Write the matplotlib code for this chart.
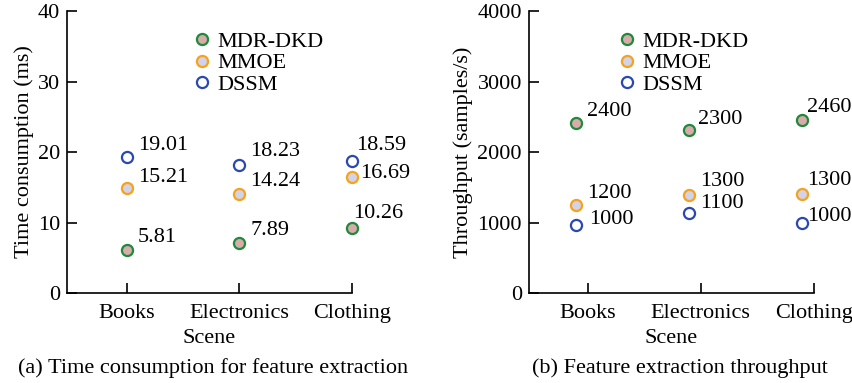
import numpy as np
import matplotlib as mpl
mpl.use('Agg')
import matplotlib.pyplot as plt

plt.rcParams['font.family'] = ['Liberation Serif', 'DejaVu Serif']
plt.rcParams['font.size'] = 16

# data
scenes = ['Books', 'Electronics', 'Clothing']
models = ['MDR-DKD', 'MMOE', 'DSSM']

# (a) time consumption, marker heights and printed labels
time_mdr = [6.1, 7.15, 9.25]
time_mmoe = [14.85, 14.05, 16.5]
time_dssm = [19.3, 18.15, 18.75]
time_lab_mdr = ['5.81', '7.89', '10.26']
time_lab_mmoe = ['15.21', '14.24', '16.69']
time_lab_dssm = ['19.01', '18.23', '18.59']

# (b) throughput
thr_mdr = [2415, 2310, 2455]
thr_mmoe = [1250, 1390, 1400]
thr_dssm = [965, 1130, 990]
thr_lab_mdr = ['2400', '2300', '2460']
thr_lab_mmoe = ['1200', '1300', '1300']
thr_lab_dssm = ['1000', '1100', '1000']

# styles
faces = ['#d9abab', '#d2d2e8', '#ffffff']
edges = ['#1e8a3c', '#f5a21c', '#2a48b0']

# label offsets (points) per model per scene
off_a = [[(8, 9), (8, 9), (1, 10)],
         [(8, 8), (8, 9), (6, 2)],
         [(8, 8), (8, 10), (3, 11)]]
off_b = [[(8, 8), (6, 8), (3, 9)],
         [(8, 8), (8, 10), (3, 10)],
         [(9, 4), (8, 7), (3, 5)]]

fig = plt.figure(figsize=(8.53, 3.83), dpi=100)
ax1 = fig.add_axes([0.0785, 0.235, 0.334, 0.736])
ax2 = fig.add_axes([0.620, 0.235, 0.334, 0.736])


def draw(ax, series, labels, offs, dx, ylim, yticks, ylabel, xl, lx):
    x = np.arange(1, len(scenes) + 1)
    for i in range(3):
        ax.plot(x + dx, series[i], ls='none', marker='o', ms=8,
                mfc=faces[i], mec=edges[i], mew=1.6, label=models[i],
                clip_on=False, zorder=3)
        for j in range(3):
            ax.annotate(labels[i][j], (x[j] + dx, series[i][j]),
                        xytext=offs[i][j], textcoords='offset points',
                        fontsize=16, va='center', ha='left')
    ax.set_xlim(xl, 3.0)
    ax.set_ylim(*ylim)
    ax.set_yticks(yticks)
    ax.set_xticks(x)
    ax.set_xticklabels(scenes)
    ax.set_xlabel('Scene', labelpad=4)
    ax.set_ylabel(ylabel, labelpad=3)
    for s in ['top', 'right']:
        ax.spines[s].set_visible(False)
    for s in ['left', 'bottom']:
        ax.spines[s].set_linewidth(1.2)
    ax.tick_params(direction='in', length=7, width=1.2, labelsize=16)
    ax.tick_params(axis='y', pad=5)
    ax.tick_params(axis='x', pad=8)
    ax.legend(loc='upper left', bbox_to_anchor=(lx, 0.96), frameon=False,
              handletextpad=0.15, labelspacing=0.05, borderaxespad=0,
              handlelength=1.1, fontsize=16)


draw(ax1, [time_mdr, time_mmoe, time_dssm],
     [time_lab_mdr, time_lab_mmoe, time_lab_dssm], off_a, 0.0,
     (0, 40), [0, 10, 20, 30, 40], 'Time consumption (ms)', 0.47, 0.40)
draw(ax2, [thr_mdr, thr_mmoe, thr_dssm],
     [thr_lab_mdr, thr_lab_mmoe, thr_lab_dssm], off_b, -0.1,
     (0, 4000), [0, 1000, 2000, 3000, 4000], 'Throughput (samples/s)', 0.48,
     0.27)

fig.text(0.25, 0.04, '(a) Time consumption for feature extraction',
         ha='center', va='center', fontsize=16)
fig.text(0.797, 0.04, '(b) Feature extraction throughput',
         ha='center', va='center', fontsize=16)

fig.savefig('out.png', dpi=100)
